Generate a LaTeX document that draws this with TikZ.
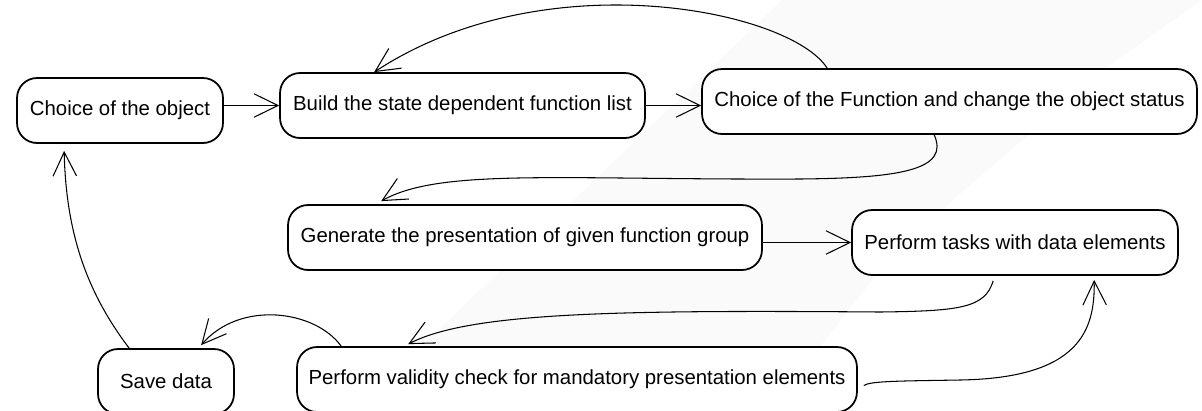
\documentclass[tikz,border=0pt]{standalone}
\usepackage{fontspec}
\setmainfont{Liberation Sans}
\usetikzlibrary{arrows.meta,calc}
\begin{document}
\begin{tikzpicture}[x=0.02cm,y=-0.02cm,
  box/.style={draw,line width=1pt,rounded corners=0.4cm,inner sep=0pt,minimum height=1.3cm,
    font=\fontsize{11.6}{14}\selectfont,fill=white},
  arr/.style={line width=0.6pt,-{Straight Barb[length=0.48cm,width=0.47cm,line width=0.6pt]}},
  band/.style={fill=black!2,draw=none}]
\useasboundingbox (0,0) rectangle (1202,410);
\clip (0,0) rectangle (1202,410);
% faint background band
\fill[band] (355,410) -- (782,0) -- (1202,0) -- (1110,65) -- (953,200) -- (880,270) -- (823,343) -- (775,410) -- cycle;

\node[box,minimum width=4.12cm] (n1) at (120,110.5) {Choice of the object};
\node[box,minimum width=7.3cm] (n2) at (462.5,105.5) {Build the state dependent function list};
\node[box,minimum width=9.9cm] (n3) at (949.5,101.5) {Choice of the Function and change the object status};
\node[box,minimum width=9.48cm] (n4) at (525,237.5) {Generate the presentation of given function group};
\node[box,minimum width=6.52cm] (n5) at (1015,242.5) {Perform tasks with data elements};
\node[box,minimum width=2.72cm] (n6) at (166,381.5) {Save data};
\node[box,minimum width=11.2cm] (n7) at (577,379.5) {Perform validity check for mandatory presentation elements};

% connector end points
\coordinate (c3a) at ($(n3.north west)+(126,0)$);
\coordinate (c2a) at ($(n2.north west)+(95,0)$);
\coordinate (c3b) at ($(n3.south west)+(233,0)$);
\coordinate (c4a) at ($(n4.north west)+(94,-3)$);
\coordinate (c5a) at ($(n5.south west)+(142,5)$);
\coordinate (c7a) at ($(n7.north west)+(112,-2)$);
\coordinate (c7b) at ($(n7.east)+(6,6)$);
\coordinate (c5b) at ($(n5.south west)+(243,4)$);
\coordinate (c7c) at ($(n7.north west)+(45,0)$);
\coordinate (c6a) at ($(n6.north west)+(104,-3)$);
\coordinate (c6b) at ($(n6.north west)+(32,0)$);
\coordinate (c1a) at ($(n1.south west)+(48,7)$);

\draw[arr] (n1.east |- n2.west) -- (n2.west);
\draw[arr] (n2.east) -- (n3.west |- n2.east);
\draw[arr] (c3a) .. controls (790,10) and (545,-40) .. (c2a);
\draw[arr] (c3b) .. controls (950,170) and (900,178) .. (800,179)
  .. controls (560,180) and (440,168) .. (c4a);
\draw[arr] (n4.east |- n5.west) -- (n5.west);
\draw[arr] (c5a) .. controls (985,308) and (960,311) .. (880,312)
  .. controls (620,310) and (470,312) .. (c7a);
\draw[arr] (c7b) .. controls (870,381) and (900,381) .. (960,380)
  .. controls (1080,378) and (1095,330) .. (c5b);
\draw[arr] (c7c) .. controls (315,310) and (240,300) .. (c6a);
\draw[arr] (c6b) .. controls (85,290) and (66,230) .. (c1a);
\end{tikzpicture}
\end{document}
